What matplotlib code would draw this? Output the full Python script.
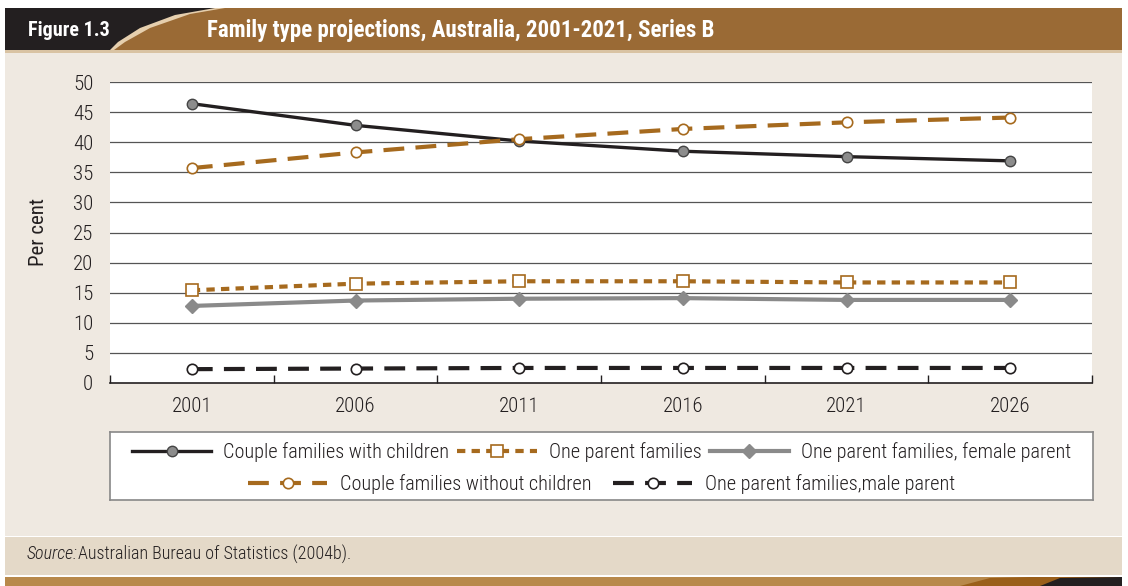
import matplotlib.pyplot as plt
from matplotlib import font_manager as fm
from matplotlib.patches import Rectangle, PathPatch
from matplotlib.path import Path

years = ["2001", "2006", "2011", "2016", "2021", "2026"]
couple_with = [46.4, 42.8, 40.2, 38.5, 37.6, 36.9]
couple_without = [35.7, 38.3, 40.5, 42.2, 43.3, 44.1]
one_parent = [15.4, 16.5, 16.9, 16.9, 16.7, 16.7]
female_parent = [12.8, 13.7, 14.0, 14.1, 13.8, 13.8]
male_parent = [2.3, 2.4, 2.5, 2.5, 2.5, 2.5]

# pick a narrow face if there is one
names = {f.name for f in fm.fontManager.ttflist}
narrow = [n for n in ["Liberation Sans Narrow", "Roboto Condensed", "Open Sans Condensed",
                      "DejaVu Sans Condensed", "Noto Sans Condensed"] if n in names]
fam = narrow[0] if narrow else "Roboto"
plt.rcParams['font.family'] = [fam, 'DejaVu Sans']
plt.rcParams['font.stretch'] = 'condensed'
plt.rcParams['font.weight'] = 'light'

W, H = 1128, 586
fig = plt.figure(figsize=(W / 100, H / 100), dpi=100)
fig.patch.set_facecolor("white")


def box(x0, y0, x1, y1, color, z=0):
    # pixel coords, y from top
    fig.patches.append(Rectangle((x0 / W, 1 - y1 / H), (x1 - x0) / W, (y1 - y0) / H,
                                 transform=fig.transFigure, facecolor=color,
                                 edgecolor="none", zorder=z))


brown = "#9a6a35"
dark = "#231f20"
box(5, 8, 1122, 536, "#efe9e1")
box(5, 8, 1122, 50, brown)
box(5, 50, 1122, 53, "#d9c3a3")
box(5, 537, 1122, 575, "#e4d9c8")
box(5, 577, 1122, 586, "#b8894b")


def curve(pts, color, z=1):
    verts = [(x / W, 1 - y / H) for x, y in pts]
    codes = [Path.MOVETO] + [Path.LINETO] * (len(pts) - 2) + [Path.CLOSEPOLY]
    fig.patches.append(PathPatch(Path(verts, codes), transform=fig.transFigure,
                                 facecolor=color, edgecolor="none", zorder=z))


# light swoosh then dark block
curve([(5, 8), (225, 8), (190, 14), (150, 28), (125, 42), (114, 50), (5, 50), (5, 8)], "#e6cfae", 1)
curve([(5, 8), (215, 8), (175, 15), (140, 28), (118, 42), (110, 50), (5, 50), (5, 8)], dark, 2)
# bottom right corner
curve([(960, 586), (990, 578), (1030, 577), (1122, 577), (1122, 586), (960, 586)], "#9a5f1a", 1)
curve([(1040, 586), (1060, 578), (1122, 577), (1122, 586), (1040, 586)], dark, 2)

fig.text(28 / W, 1 - 30 / H, "Figure 1.3", color="white", fontsize=14.5, fontweight="bold",
         va="center", ha="left", zorder=5)
fig.text(207 / W, 1 - 30 / H, "Family type projections, Australia, 2001-2021, Series B",
         color="white", fontsize=16.5, fontweight="bold", va="center", ha="left", zorder=5)

ax = fig.add_axes([110 / W, 1 - 383 / H, (1092 - 110) / W, (383 - 82) / H])
ax.set_zorder(10)
ax.set_facecolor("white")
x = list(range(len(years)))
ax.set_xlim(-0.5, 5.5)
ax.set_ylim(0, 50)
ax.set_yticks(range(0, 51, 5))
for v in range(5, 51, 5):
    ax.axhline(v, color="#555555", lw=0.9, zorder=1)

c_brown = "#a66a1e"
c_gray = "#8a8a8a"
l1, = ax.plot(x, couple_with, color=dark, lw=2.4, marker="o", ms=7.5,
              mfc="#8c8c8c", mec="#444444", mew=1, zorder=5)
l2, = ax.plot(x, couple_without, color=c_brown, lw=3, dashes=(5, 2.7), marker="o", ms=7.5,
              mfc="white", mec=c_brown, mew=1.2, zorder=5)
l3, = ax.plot(x, one_parent, color=c_brown, lw=3, dashes=(2, 1.5), marker="s", ms=8.5,
              mfc="white", mec=c_brown, mew=1.2, zorder=5)
l4, = ax.plot(x, female_parent, color=c_gray, lw=3, marker="D", ms=7,
              mfc=c_gray, mec=c_gray, zorder=5)
l5, = ax.plot(x, male_parent, color=dark, lw=3, dashes=(5, 2.7), marker="o", ms=7.5,
              mfc="white", mec=dark, mew=1.2, zorder=5)

for s in ["top", "right", "left"]:
    ax.spines[s].set_visible(False)
ax.spines["bottom"].set_color(dark)
ax.spines["bottom"].set_linewidth(1.2)
ax.set_xticks([i - 0.5 for i in range(7)], minor=False)
ax.set_xticklabels([])
ax.set_xticks(x, minor=True)
ax.set_xticklabels(years, minor=True)
ax.tick_params(axis="x", which="major", direction="in", length=6, width=1, color=dark)
ax.tick_params(axis="x", which="minor", length=0, labelsize=15, pad=10, labelcolor=dark)
ax.tick_params(axis="y", length=0, labelsize=15, pad=12, labelcolor=dark)
ax.set_ylabel("Per cent", fontsize=15, color=dark, labelpad=18)

# legend box
lax = fig.add_axes([110 / W, 1 - 500 / H, (1093 - 110) / W, (500 - 432) / H])
lax.set_zorder(10)
lax.set_xticks([])
lax.set_yticks([])
for s in lax.spines.values():
    s.set_color("#888888")
    s.set_linewidth(1.2)
leg1 = lax.legend([l1, l3, l4], ["Couple families with children", "One parent families",
                                 "One parent families, female parent"],
                  loc="center", bbox_to_anchor=(0.5, 0.7), ncol=3, frameon=False,
                  fontsize=14.6, handlelength=3.9, columnspacing=0.4, handletextpad=0.6,
                  labelcolor=dark)
lax.add_artist(leg1)
lax.legend([l2, l5], ["Couple families without children", "One parent families,male parent"],
           loc="center", bbox_to_anchor=(0.5, 0.23), ncol=2, frameon=False,
           fontsize=14.6, handlelength=3.9, columnspacing=1.1, handletextpad=0.6,
           labelcolor=dark)

fig.text(27 / W, 1 - 554 / H, "Source:", fontsize=13, style="italic", color=dark,
         va="center", ha="left", zorder=5)
fig.text(78 / W, 1 - 554 / H, "Australian Bureau of Statistics (2004b).", fontsize=13,
         color=dark, va="center", ha="left", zorder=5)

fig.savefig("out.png", dpi=100)
